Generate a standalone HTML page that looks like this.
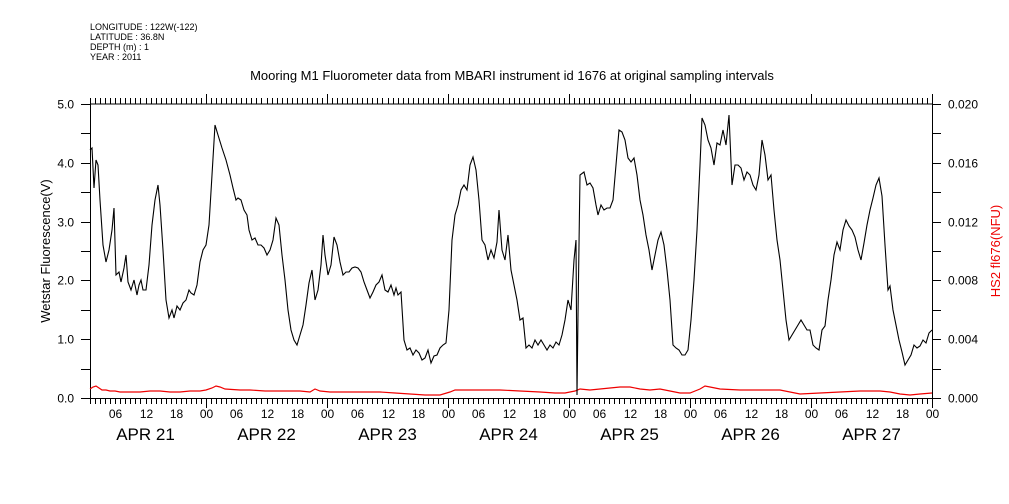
<!DOCTYPE html>
<html><head><meta charset="utf-8"><style>
body{margin:0;background:#fff;}
svg{display:block;font-family:"Liberation Sans",sans-serif;}
</style></head><body>
<svg id="s" width="1009" height="504" viewBox="0 0 1009 504">
<text x="90" y="30" font-size="9">LONGITUDE : 122W(-122)</text>
<text x="90" y="40" font-size="9">LATITUDE : 36.8N</text>
<text x="90" y="50" font-size="9">DEPTH (m) : 1</text>
<text x="90" y="60" font-size="9">YEAR : 2011</text>
<text x="512" y="80" font-size="13" text-anchor="middle">Mooring M1 Fluorometer data from MBARI instrument id 1676 at original sampling intervals</text>
<text transform="translate(50,251) rotate(-90)" font-size="13" text-anchor="middle">Wetstar Fluorescence(V)</text>
<text transform="translate(1000,251) rotate(-90)" font-size="13" text-anchor="middle" fill="#e00">HS2 fl676(NFU)</text>
<g id="ax" stroke="#000" stroke-width="1" fill="none"></g>
<g id="lab" font-size="12"></g>
<polyline fill="none" stroke="#e00" stroke-width="1.2" points="90,389 93,387 96,386 99,388 102,390 106,390 110,391 115,391 120,392 130,392 140,392 150,391 160,391 170,392 180,392 190,391 200,391 206,390 212,388 216,386 220,387 225,389 240,390 250,390 265,391 280,391 300,391 310,392 315,389 320,391 330,392 345,392 360,392 380,392 395,393 410,394 425,395 440,395 450,392 455,390 470,390 500,390 520,391 540,392 555,393 565,393 575,391 580,389 590,390 600,389 610,388 620,387 630,387 640,389 650,390 660,389 670,391 680,393 690,393 700,389 705,386 710,387 720,389 740,390 760,390 780,390 790,392 800,394 820,393 840,392 860,391 880,391 890,392 900,394 910,395 920,394 932,393"/>
<polyline fill="none" stroke="#000" stroke-width="1.1" points="90,150 92,148 94,188 96,160 98,165 100,200 103,245 106,262 109,250 112,230 114,208 116,275 119,272 121,282 124,268 126,255 128,282 131,290 134,280 137,295 139,285 141,280 143,290 146,290 149,265 152,225 155,200 158,185 160,205 163,250 166,300 169,318 172,310 174,318 177,306 180,310 183,303 186,300 189,290 191,293 194,295 197,285 200,262 203,250 206,245 209,225 212,175 215,125 218,135 222,148 226,160 230,175 233,188 236,200 238,198 241,200 244,210 247,215 249,230 252,240 255,238 258,245 261,245 264,248 267,255 270,250 273,240 276,218 279,225 282,255 285,280 288,310 291,330 294,340 297,345 300,335 303,325 306,305 309,283 312,270 315,300 318,290 321,265 323,235 325,255 328,275 331,265 334,237 337,245 340,262 343,275 346,272 349,272 352,268 355,267 358,268 361,272 364,282 367,290 370,298 373,292 376,285 379,282 382,275 385,290 388,292 391,285 394,295 396,288 398,295 401,292 404,340 407,350 410,348 413,355 416,350 419,353 422,360 425,358 428,350 431,363 434,356 437,355 440,348 443,345 446,343 449,310 452,240 455,215 458,205 461,190 464,185 467,190 470,165 473,157 476,170 479,200 482,240 485,245 488,260 491,250 494,258 497,242 499,210 502,250 505,260 508,235 511,270 514,285 517,300 520,320 523,318 526,348 529,345 532,348 535,340 538,345 541,340 544,345 547,350 550,345 553,348 556,342 559,345 562,335 565,320 568,300 571,310 574,260 576,240 577,395 578,315 580,175 584,172 587,185 590,183 593,188 596,205 598,215 601,205 604,210 607,208 610,208 613,200 616,165 619,130 622,132 625,140 628,158 631,162 634,158 637,175 640,200 643,215 646,235 649,250 652,270 655,255 658,240 661,232 664,245 667,270 670,300 673,345 676,348 679,350 682,355 685,355 688,350 691,320 694,280 697,230 700,165 702,118 705,125 708,140 711,148 714,165 717,143 720,145 723,130 726,145 729,115 732,185 735,165 738,165 741,168 744,180 747,172 750,175 753,185 756,190 759,175 762,140 765,155 768,180 771,175 774,210 777,240 780,260 783,290 786,320 789,340 792,335 795,330 798,325 801,320 804,325 807,330 810,330 813,345 816,348 819,350 822,330 825,326 828,300 831,280 834,255 837,242 840,250 843,230 846,220 849,226 852,230 855,237 858,250 861,260 864,243 867,225 870,210 873,198 876,185 879,178 882,196 885,245 888,290 890,286 893,310 896,325 899,340 902,352 905,365 908,360 911,355 914,345 917,348 920,346 923,340 926,343 929,333 932,330"/>
</svg>
<script>
const ax=document.getElementById('ax'),lab=document.getElementById('lab');
let p='M90.5,104V398.5H932.5V104H90.5';
const L=90,R=932,T=104,B=398,day=121,d0=206-121;
for(let h=1;h<=168;h++){const x=Math.round(d0+h*day/24)+0.5;if(x>R+1)break;
 const maj=h%24==0, mid=h%6==0;
 p+=`M${x},${B}v${maj?10:6}M${x},${T}v${maj?-10:-6}`;
 if(mid){const hh=h%24;const t=document.createElementNS('http://www.w3.org/2000/svg','text');
 t.setAttribute('x',x);t.setAttribute('y',418);t.setAttribute('text-anchor','middle');t.textContent=(hh<10?'0':'')+hh;lab.appendChild(t);}}
for(let d=0;d<7;d++){const t=document.createElementNS('http://www.w3.org/2000/svg','text');
 t.setAttribute('x',d0+d*day+day/2);t.setAttribute('y',440);t.setAttribute('text-anchor','middle');t.setAttribute('font-size','17');t.textContent='APR '+(21+d);lab.appendChild(t);}
for(let i=0;i<=10;i++){const y=Math.round(B-i*(B-T)/10)+0.5;p+=`M${L},${y}h-9M${R},${y}h9`;
 if(i%2==0){let t=document.createElementNS('http://www.w3.org/2000/svg','text');
 t.setAttribute('x',74);t.setAttribute('y',y+4);t.setAttribute('text-anchor','end');t.textContent=(i/2).toFixed(1);lab.appendChild(t);
 t=document.createElementNS('http://www.w3.org/2000/svg','text');t.setAttribute('x',948);t.setAttribute('y',y+4);t.textContent=(i*0.002).toFixed(3);lab.appendChild(t);}}
const pa=document.createElementNS('http://www.w3.org/2000/svg','path');pa.setAttribute('d',p);ax.appendChild(pa);
</script>
</body></html>
